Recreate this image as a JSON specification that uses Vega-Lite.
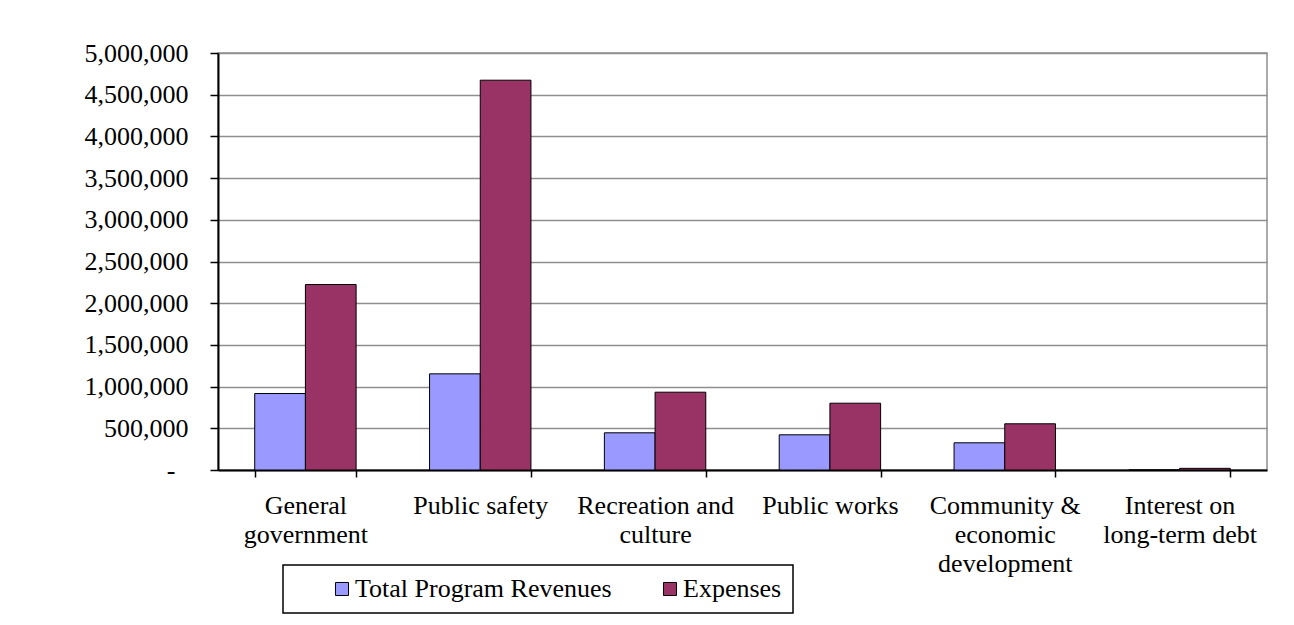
{
  "$schema": "https://vega.github.io/schema/vega-lite/v6.json",
  "autosize": "none",
  "width": 1049,
  "height": 417,
  "padding": {"left": 218, "top": 53, "right": 27, "bottom": 155},
  "background": "white",
  "data": {
    "values": [
      {"category": "General government", "series": "Total Program Revenues", "value": 917000},
      {"category": "General government", "series": "Expenses", "value": 2224000},
      {"category": "Public safety", "series": "Total Program Revenues", "value": 1153000},
      {"category": "Public safety", "series": "Expenses", "value": 4674000},
      {"category": "Recreation and culture", "series": "Total Program Revenues", "value": 446000},
      {"category": "Recreation and culture", "series": "Expenses", "value": 933000},
      {"category": "Public works", "series": "Total Program Revenues", "value": 422000},
      {"category": "Public works", "series": "Expenses", "value": 801000},
      {"category": "Community & economic development", "series": "Total Program Revenues", "value": 326000},
      {"category": "Community & economic development", "series": "Expenses", "value": 554000},
      {"category": "Interest on long-term debt", "series": "Total Program Revenues", "value": 0},
      {"category": "Interest on long-term debt", "series": "Expenses", "value": 20000}
    ]
  },
  "mark": {"type": "bar", "stroke": "black", "strokeWidth": 1},
  "encoding": {
    "x": {
      "field": "category",
      "type": "nominal",
      "sort": null,
      "scale": {"paddingInner": 0.42, "paddingOuter": 0.21},
      "axis": {
        "title": null,
        "labelAngle": 0,
        "tickBand": "extent",
        "tickSize": 7,
        "tickColor": "black",
        "tickWidth": 1.5,
        "domainColor": "black",
        "domainWidth": 2,
        "labelPadding": 15,
        "labelFont": "Liberation Serif",
        "labelFontSize": 26,
        "labelColor": "black",
        "labelLineHeight": 29,
        "labelLimit": 0,
        "labelExpr": "datum.label == 'General government' ? ['General','government'] : datum.label == 'Recreation and culture' ? ['Recreation and','culture'] : datum.label == 'Community & economic development' ? ['Community &','economic','development'] : datum.label == 'Interest on long-term debt' ? ['Interest on','long-term debt'] : datum.label"
      }
    },
    "xOffset": {
      "field": "series",
      "type": "nominal",
      "sort": ["Total Program Revenues", "Expenses"]
    },
    "y": {
      "field": "value",
      "type": "quantitative",
      "scale": {"domain": [0, 5000000], "nice": false},
      "axis": {
        "title": null,
        "values": [0, 500000, 1000000, 1500000, 2000000, 2500000, 3000000, 3500000, 4000000, 4500000, 5000000],
        "labelExpr": "datum.value == 0 ? '-' : format(datum.value, ',')",
        "tickSize": 8,
        "tickColor": "black",
        "tickWidth": 1.5,
        "domainColor": "black",
        "domainWidth": 2,
        "labelPadding": {"condition": {"test": "datum.value == 0", "value": 35}, "value": 22},
        "labelFont": "Liberation Serif",
        "labelFontSize": 26,
        "labelColor": "black",
        "grid": true,
        "gridColor": "#8f8f8f",
        "gridWidth": 1.5
      }
    },
    "color": {
      "field": "series",
      "type": "nominal",
      "sort": ["Total Program Revenues", "Expenses"],
      "scale": {"domain": ["Total Program Revenues", "Expenses"], "range": ["#9999FF", "#993366"]},
      "legend": {
        "title": null,
        "orient": "none",
        "direction": "horizontal",
        "legendX": 65,
        "legendY": 512,
        "padding": 11,
        "strokeColor": "black",
        "fillColor": "white",
        "symbolType": "square",
        "symbolSize": 170,
        "symbolStrokeColor": "black",
        "symbolStrokeWidth": 1,
        "symbolOffset": 35,
        "labelOffset": 0,
        "columnPadding": 10,
        "labelFont": "Liberation Serif",
        "labelFontSize": 26,
        "labelColor": "black",
        "labelLimit": 0
      }
    }
  },
  "config": {
    "view": {"stroke": "#8f8f8f", "strokeWidth": 1.5},
    "legend": {"strokeWidth": 1.5}
  }
}
